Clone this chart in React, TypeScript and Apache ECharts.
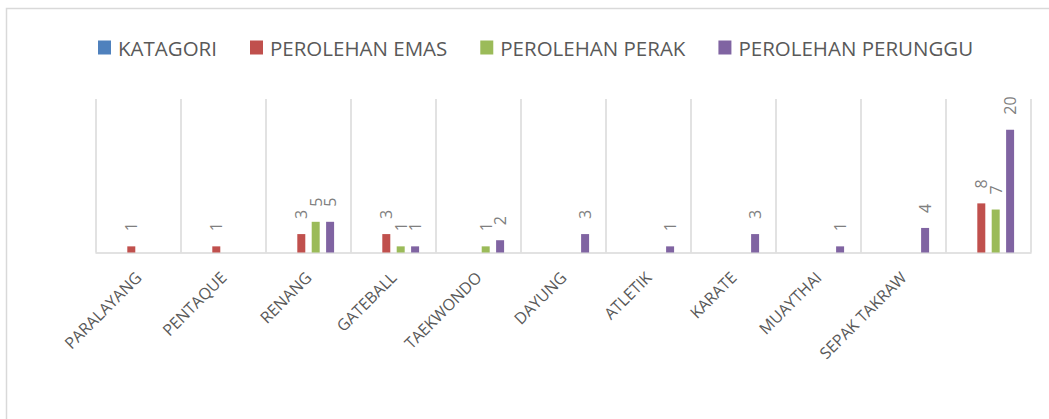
import React, { useEffect, useRef } from "react";
import * as echarts from "echarts";

const categories = [
  "PARALAYANG",
  "PENTAQUE",
  "RENANG",
  "GATEBALL",
  "TAEKWONDO",
  "DAYUNG",
  "ATLETIK",
  "KARATE",
  "MUAYTHAI",
  "SEPAK TAKRAW",
  "",
];
const seriesNames = ["KATAGORI", "PEROLEHAN EMAS", "PEROLEHAN PERAK", "PEROLEHAN PERUNGGU"];
const katagori = [null, null, null, null, null, null, null, null, null, null, null];
const emas = [1, 1, 3, 3, null, null, null, null, null, null, 8];
const perak = [null, null, 5, 1, 1, null, null, null, null, null, 7];
const perunggu = [null, null, 5, 1, 2, 3, 1, 3, 1, 4, 20];
const colors = ["#4f81bd", "#c0504d", "#9bbb59", "#8064a2"];

export default function App() {
  const ref = useRef<HTMLDivElement>(null);
  useEffect(() => {
    if (!ref.current) return;
    const chart = echarts.init(ref.current, null, { renderer: "svg" });
    const dataSets = [katagori, emas, perak, perunggu];
    const font = "'Open Sans', 'Liberation Sans', sans-serif";
    chart.setOption({
      animation: false,
      color: colors,
      graphic: [
        {
          type: "rect",
          shape: { x: 6.5, y: 8.5, width: 1100, height: 500 },
          style: { fill: "none", stroke: "#d9d9d9", lineWidth: 1.5 },
          silent: true,
        },
      ],
      legend: {
        left: 93,
        top: 32,
        itemWidth: 13,
        itemHeight: 14,
        itemGap: 33,
        icon: "rect",
        textStyle: { color: "#595959", fontSize: 20.5, fontFamily: font, padding: [0, 0, 0, 2] },
        data: seriesNames,
      },
      grid: { left: 96, right: 18, top: 99, bottom: 166.5, containLabel: false },
      xAxis: {
        type: "category",
        data: categories,
        axisLine: { lineStyle: { color: "#d9d9d9", width: 1.5 } },
        axisTick: { show: false },
        splitLine: { show: true, lineStyle: { color: "#d9d9d9", width: 1.5 } },
        axisLabel: {
          interval: 0,
          rotate: 45,
          margin: 22,
          color: "#595959",
          fontSize: 16,
          fontFamily: font,
        },
      },
      yAxis: {
        type: "value",
        min: 0,
        max: 25,
        show: false,
        splitLine: { show: false },
      },
      series: seriesNames.map((name, i) => ({
        name,
        type: "bar",
        data: dataSets[i],
        barWidth: 8,
        barGap: "80%",
        itemStyle: { color: colors[i] },
        label: {
          show: true,
          position: "top",
          rotate: 90,
          align: "left",
          verticalAlign: "middle",
          distance: 15,
          color: "#7f7f7f",
          fontSize: 16,
          fontFamily: font,
        },
      })),
    });
    return () => chart.dispose();
  }, []);
  return (
    <div
      ref={ref}
      style={{ position: "absolute", left: 0, top: 0, width: 1049, height: 419, background: "#fff" }}
    />
  );
}
